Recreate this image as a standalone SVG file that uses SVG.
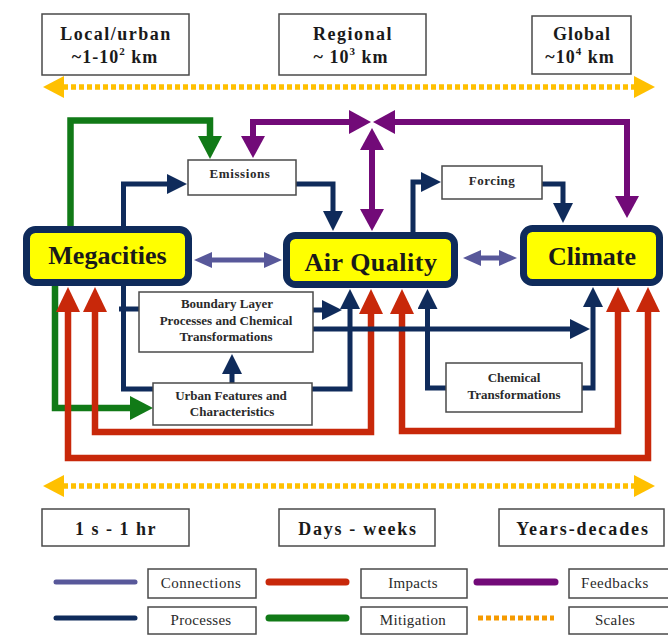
<svg xmlns="http://www.w3.org/2000/svg" width="668" height="635" viewBox="0 0 668 635">
<style>
.box{fill:#fff;stroke:#4a4a4a;stroke-width:1.5}
.main{fill:#ffff00;stroke:#0f2b5b;stroke-width:7}
.t{font-family:"Liberation Serif","Times New Roman",serif;fill:#1a1a1a;text-anchor:middle}
.big{font-size:26px;font-weight:bold}
.sm{font-size:13px;font-weight:bold;fill:#2a2a2a}
.sc{font-size:18px;font-weight:bold}
.lg{font-size:15px;fill:#2a2a2a}
.c{fill:none;stroke-linejoin:miter}
.navy{stroke:#0f2b5b;stroke-width:5}
.red{stroke:#c8280a;stroke-width:6.5}
.pur{stroke:#720a78;stroke-width:6}
.grn{stroke:#117a17;stroke-width:6.5}
.sla{stroke:#58589a;stroke-width:5}
.org{stroke:#ffc000;stroke-width:5.5;stroke-dasharray:5 3}
.leg{fill:none;stroke-linecap:round}
</style>
<defs>
<marker id="aN" viewBox="0 -10 20 20" refX="1" refY="0" markerWidth="20" markerHeight="20" markerUnits="userSpaceOnUse" orient="auto-start-reverse"><path d="M0,-10L20,0L0,10z" fill="#0f2b5b"/></marker>
<marker id="aR" viewBox="0 -12 25 24" refX="1" refY="0" markerWidth="25" markerHeight="24" markerUnits="userSpaceOnUse" orient="auto-start-reverse"><path d="M0,-12L25,0L0,12z" fill="#c8280a"/></marker>
<marker id="aP" viewBox="0 -12 22 24" refX="1" refY="0" markerWidth="22" markerHeight="24" markerUnits="userSpaceOnUse" orient="auto-start-reverse"><path d="M0,-12L22,0L0,12z" fill="#720a78"/></marker>
<marker id="aG" viewBox="0 -12 23 24" refX="1" refY="0" markerWidth="23" markerHeight="24" markerUnits="userSpaceOnUse" orient="auto-start-reverse"><path d="M0,-12L23,0L0,12z" fill="#117a17"/></marker>
<marker id="aS" viewBox="0 -8 18 16" refX="1" refY="0" markerWidth="18" markerHeight="16" markerUnits="userSpaceOnUse" orient="auto-start-reverse"><path d="M0,-8L18,0L0,8z" fill="#58589a"/></marker>
<marker id="aO" viewBox="0 -11 21 22" refX="1" refY="0" markerWidth="21" markerHeight="22" markerUnits="userSpaceOnUse" orient="auto-start-reverse"><path d="M0,-11L21,0L0,11z" fill="#ffc000"/></marker>
</defs>
<rect width="668" height="635" fill="#fff"/>

<g id="connectors">
<!-- scales -->
<path class="c org" d="M63,87H635" marker-start="url(#aO)" marker-end="url(#aO)"/>
<path class="c org" d="M63,486H635" marker-start="url(#aO)" marker-end="url(#aO)"/>
<!-- mitigation -->
<path class="c grn" d="M70.5,226V120.5H210V137" marker-end="url(#aG)"/>
<path class="c grn" d="M55,284V408H131" marker-end="url(#aG)"/>
<!-- impacts -->
<path class="c red" d="M68,311V458H648V311" marker-start="url(#aR)" marker-end="url(#aR)"/>
<path class="c red" d="M95,311V432H371V313" marker-start="url(#aR)" marker-end="url(#aR)"/>
<path class="c red" d="M402,313V431H618V311" marker-start="url(#aR)" marker-end="url(#aR)"/>
<!-- processes -->
<path class="c navy" d="M123.5,228V184H168" marker-end="url(#aN)"/>
<path class="c navy" d="M294,184H333V212" marker-end="url(#aN)"/>
<path class="c navy" d="M413,234V182H422" marker-end="url(#aN)"/>
<path class="c navy" d="M540,184H563V204" marker-end="url(#aN)"/>
<path class="c navy" d="M123.5,284V389H350V308" marker-end="url(#aN)"/>
<path class="c navy" d="M119,309H140"/>
<path class="c navy" d="M312,310H323" marker-end="url(#aN)"/>
<path class="c navy" d="M312,329H571" marker-end="url(#aN)"/>
<path class="c navy" d="M232,384V373" marker-end="url(#aN)"/>
<path class="c navy" d="M447,388H427.5V308" marker-end="url(#aN)"/>
<path class="c navy" d="M581,388H593V306" marker-end="url(#aN)"/>
<!-- feedbacks -->
<path class="c pur" d="M253,137V122H350" marker-start="url(#aP)" marker-end="url(#aP)"/>
<path class="c pur" d="M627,197V122H394" marker-start="url(#aP)" marker-end="url(#aP)"/>
<path class="c pur" d="M372,149V210" marker-start="url(#aP)" marker-end="url(#aP)"/>
<!-- connections -->
<path class="c sla" d="M211,260H265" marker-start="url(#aS)" marker-end="url(#aS)"/>
<path class="c sla" d="M480,258H500" marker-start="url(#aS)" marker-end="url(#aS)"/>
</g>

<g id="scale-local"><rect class="box" x="42" y="14" width="147" height="61"/>
<text class="t sc" x="116" y="40" letter-spacing="1.5">Local/urban</text>
<text class="t sc" x="115" y="63" letter-spacing="1">~1-10<tspan font-size="11" dy="-8">2</tspan><tspan dy="8"> km</tspan></text></g>
<g id="scale-regional"><rect class="box" x="279" y="14" width="147" height="61"/>
<text class="t sc" x="353" y="40" letter-spacing="1.5">Regional</text>
<text class="t sc" x="351" y="63" letter-spacing="1">~ 10<tspan font-size="11" dy="-8">3</tspan><tspan dy="8"> km</tspan></text></g>
<g id="scale-global"><rect class="box" x="532" y="16" width="99" height="58"/>
<text class="t sc" x="582" y="40" letter-spacing="1">Global</text>
<text class="t sc" x="580" y="63" letter-spacing="1">~10<tspan font-size="11" dy="-8">4</tspan><tspan dy="8"> km</tspan></text></g>

<g id="megacities"><rect class="main" x="26.5" y="229.5" width="162" height="53" rx="9"/>
<text class="t big" x="107.5" y="264">Megacities</text></g>
<g id="air-quality"><rect class="main" x="286.5" y="235.5" width="168" height="49" rx="9"/>
<text class="t big" x="371" y="271" letter-spacing="0.5">Air Quality</text></g>
<g id="climate"><rect class="main" x="523.5" y="228.5" width="136" height="54" rx="9"/>
<text class="t big" x="592" y="265">Climate</text></g>

<g id="emissions"><rect class="box" x="188" y="160" width="108" height="35"/>
<text class="t sm" x="240" y="178" font-size="14" letter-spacing="0.6">Emissions</text></g>
<g id="forcing"><rect class="box" x="442" y="166" width="100" height="33"/>
<text class="t sm" x="492" y="185" font-size="14" letter-spacing="0.5">Forcing</text></g>
<g id="boundary-layer"><rect class="box" x="139" y="292" width="174" height="60"/>
<text class="t sm" x="227" y="308">Boundary Layer</text>
<text class="t sm" x="226" y="325">Processes and Chemical</text>
<text class="t sm" x="226" y="341">Transformations</text></g>
<g id="urban-features"><rect class="box" x="153" y="383" width="159" height="42"/>
<text class="t sm" x="231" y="400">Urban Features and</text>
<text class="t sm" x="232" y="416">Characteristics</text></g>
<g id="chemical-transformations"><rect class="box" x="446" y="363" width="136" height="49"/>
<text class="t sm" x="514" y="382" font-size="14">Chemical</text>
<text class="t sm" x="514" y="399" font-size="14">Transformations</text></g>

<g id="time-short"><rect class="box" x="42" y="509" width="147" height="37"/>
<text class="t sc" x="116" y="535" letter-spacing="1.5">1 s - 1 hr</text></g>
<g id="time-mid"><rect class="box" x="279" y="509" width="156" height="37"/>
<text class="t sc" x="358" y="535" letter-spacing="1.7">Days - weeks</text></g>
<g id="time-long"><rect class="box" x="499" y="509" width="165" height="37"/>
<text class="t sc" x="583" y="535" letter-spacing="1.9">Years-decades</text></g>

<g id="legend">
<path class="leg" stroke="#58589a" stroke-width="5" d="M56,582H135"/>
<path class="leg" stroke="#0f2b5b" stroke-width="5" d="M56,618H135"/>
<path class="leg" stroke="#c8280a" stroke-width="7" d="M269,582H346"/>
<path class="leg" stroke="#117a17" stroke-width="7" d="M269,618H346"/>
<path class="leg" stroke="#720a78" stroke-width="7" d="M477,582H555"/>
<path fill="none" stroke="#f59a00" stroke-width="5" stroke-dasharray="5 3" d="M478,618H554"/>
<rect class="box" x="148" y="569" width="108" height="29"/>
<rect class="box" x="148" y="607" width="108" height="27"/>
<rect class="box" x="361" y="569" width="106" height="29"/>
<rect class="box" x="361" y="607" width="106" height="27"/>
<rect class="box" x="569" y="569" width="104" height="29"/>
<rect class="box" x="569" y="607" width="104" height="27"/>
<text class="t lg" x="201" y="588" letter-spacing="0.5">Connections</text>
<text class="t lg" x="201" y="625" letter-spacing="0.3">Processes</text>
<text class="t lg" x="413" y="588" letter-spacing="0.3">Impacts</text>
<text class="t lg" x="413" y="625" letter-spacing="0.3">Mitigation</text>
<text class="t lg" x="615" y="588" letter-spacing="0.5">Feedbacks</text>
<text class="t lg" x="615" y="625" letter-spacing="0.3">Scales</text>
</g>
</svg>
